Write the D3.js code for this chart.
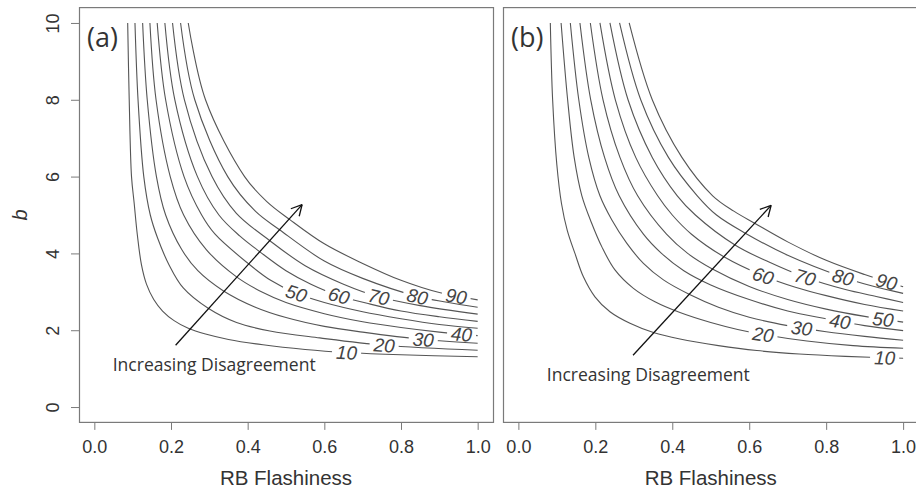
<!doctype html>
<html>
<head>
<meta charset="utf-8">
<title>RB Flashiness contours</title>
<script src="https://d3js.org/d3.v7.min.js"></script>
<style>
  body { margin: 0; background: #fff; }
  svg { display: block; }
</style>
</head>
<body>
<script>
// ---- data ----
var xTicks = [0, 0.2, 0.4, 0.6, 0.8, 1.0];
var yTicks = [0, 2, 4, 6, 8, 10];
var levels = [10, 20, 30, 40, 50, 60, 70, 80, 90];

// contour lines of panel (a), one list of [RB flashiness, b] per level
var curvesA = [
  [[0.087,10],[0.091,8],[0.097,6],[0.104,5.3],[0.112,4.5],[0.123,3.7],[0.136,3.2],[0.155,2.8],[0.178,2.5],[0.208,2.25],[0.245,2.05],[0.29,1.9],[0.35,1.76],[0.44,1.62],[0.55,1.5],[0.66,1.42],[0.8,1.36],[1.0,1.31]],
  [[0.106,10],[0.114,8],[0.129,6],[0.146,5],[0.165,4.4],[0.195,3.7],[0.232,3.1],[0.297,2.57],[0.371,2.2],[0.458,1.98],[0.588,1.8],[0.757,1.61],[1.0,1.48]],
  [[0.126,10],[0.138,8],[0.162,6],[0.186,5],[0.228,4.1],[0.27,3.55],[0.336,3.03],[0.42,2.6],[0.5,2.33],[0.6,2.1],[0.7,1.95],[0.858,1.76],[1.0,1.66]],
  [[0.145,10],[0.161,8],[0.198,6],[0.233,5],[0.292,4.1],[0.371,3.39],[0.44,2.98],[0.5,2.72],[0.6,2.43],[0.7,2.22],[0.8,2.07],[0.9,1.95],[1.0,1.86]],
  [[0.164,10],[0.186,8],[0.234,6],[0.28,5],[0.315,4.5],[0.401,3.74],[0.46,3.3],[0.527,2.96],[0.6,2.72],[0.7,2.48],[0.8,2.3],[0.9,2.15],[1.0,2.05]],
  [[0.184,10],[0.21,8],[0.269,6],[0.325,5],[0.38,4.45],[0.432,4.04],[0.5,3.55],[0.565,3.2],[0.638,2.9],[0.72,2.68],[0.8,2.5],[0.9,2.35],[1.0,2.23]],
  [[0.204,10],[0.235,8],[0.307,6],[0.37,5.05],[0.458,4.33],[0.55,3.68],[0.65,3.2],[0.742,2.87],[0.85,2.64],[1.0,2.42]],
  [[0.225,10],[0.262,8],[0.348,6],[0.42,5.1],[0.484,4.61],[0.6,3.8],[0.7,3.35],[0.843,2.88],[0.92,2.73],[1.0,2.6]],
  [[0.245,10],[0.29,8],[0.392,6],[0.45,5.35],[0.51,4.88],[0.6,4.25],[0.7,3.74],[0.8,3.3],[0.9,2.98],[1.0,2.79]]
];

// contour lines of panel (b)
var curvesB = [
  [[0.083,10],[0.089,8],[0.100,6.3],[0.112,5.3],[0.127,4.6],[0.147,4.0],[0.169,3.39],[0.199,2.87],[0.238,2.48],[0.29,2.18],[0.351,1.94],[0.42,1.77],[0.52,1.6],[0.62,1.47],[0.73,1.38],[0.85,1.32],[1.0,1.27]],
  [[0.111,10],[0.128,8],[0.145,6.5],[0.165,5.5],[0.19,4.8],[0.217,4.17],[0.251,3.57],[0.299,3.09],[0.355,2.74],[0.42,2.46],[0.5,2.2],[0.57,2.02],[0.636,1.89],[0.75,1.72],[0.87,1.6],[1.0,1.53]],
  [[0.135,10],[0.157,8],[0.183,6.5],[0.212,5.5],[0.243,4.87],[0.282,4.26],[0.325,3.74],[0.377,3.31],[0.445,2.93],[0.52,2.6],[0.6,2.34],[0.7,2.12],[0.8,1.96],[0.9,1.84],[1.0,1.74]],
  [[0.160,10],[0.188,8],[0.224,6.5],[0.262,5.5],[0.325,4.5],[0.372,4.0],[0.43,3.55],[0.5,3.18],[0.6,2.8],[0.7,2.5],[0.8,2.3],[0.9,2.12],[1.0,1.99]],
  [[0.187,10],[0.22,8],[0.264,6.5],[0.31,5.5],[0.385,4.5],[0.44,4.0],[0.503,3.6],[0.6,3.14],[0.7,2.8],[0.8,2.55],[0.9,2.36],[1.0,2.21]],
  [[0.212,10],[0.252,8],[0.305,6.5],[0.362,5.5],[0.4,5.0],[0.45,4.5],[0.533,3.92],[0.636,3.42],[0.72,3.12],[0.8,2.9],[0.9,2.67],[1.0,2.5]],
  [[0.238,10],[0.285,8],[0.348,6.5],[0.413,5.5],[0.46,5.0],[0.563,4.22],[0.65,3.78],[0.745,3.38],[0.85,3.06],[0.93,2.88],[1.0,2.72]],
  [[0.263,10],[0.318,8],[0.39,6.5],[0.465,5.5],[0.515,5.0],[0.591,4.52],[0.7,3.95],[0.844,3.38],[0.92,3.15],[1.0,2.96]],
  [[0.288,10],[0.348,8],[0.425,6.5],[0.505,5.5],[0.56,5.1],[0.615,4.78],[0.7,4.3],[0.8,3.82],[0.9,3.45],[1.0,3.13]]
];

// x position of each contour label (same order as levels)
var labelXA = [0.658, 0.756, 0.858, 0.958, 0.527, 0.638, 0.742, 0.843, 0.944];
var labelXB = [0.952, 0.636, 0.736, 0.836, 0.948, 0.636, 0.745, 0.844, 0.957];

// arrow start / end and the note under it
var arrowA = [[0.212, 1.61], [0.542, 5.27]];
var arrowB = [[0.298, 1.35], [0.657, 5.25]];
var noteA = [0.048, 0.94];
var noteB = [0.074, 0.685];
var noteText = "Increasing Disagreement";

// ---- drawing ----
var W = 916, H = 492;
var svg = d3.select("body").append("svg")
    .attr("width", W)
    .attr("height", H);
var defs = svg.append("defs");

var panels = [
  {tag: "(a)", curves: curvesA, labelX: labelXA, arrow: arrowA, note: noteA, left: 79, right: 493, yAxis: true},
  {tag: "(b)", curves: curvesB, labelX: labelXB, arrow: arrowB, note: noteB, left: 503, right: 918.5, yAxis: false}
];

var plotTop = 7.6, plotBottom = 422.4;
var axisFont = "'Liberation Sans', Arial, Helvetica, sans-serif";

panels.forEach(function(p, pi) {
    var x = d3.scaleLinear().domain([-0.04, 1.04]).range([p.left, p.right]);
    var y = d3.scaleLinear().domain([-0.4, 10.4]).range([plotBottom, plotTop]);
    var g = svg.append("g");

    // box
    g.append("rect")
        .attr("x", p.left + 0.5)
        .attr("y", plotTop)
        .attr("width", p.right - p.left)
        .attr("height", plotBottom - plotTop)
        .style("fill", "none")
        .style("stroke", "#7a7a7a")
        .style("stroke-width", 1.2);

    // x axis
    var xa = g.append("g")
        .attr("transform", "translate(0," + plotBottom + ")")
        .call(d3.axisBottom(x).tickValues(xTicks).tickFormat(d3.format(".1f")).tickSize(7.5).tickPadding(10));
    xa.select(".domain").remove();
    xa.selectAll("line").style("stroke", "#7a7a7a");
    xa.selectAll("text").style("font-family", axisFont).style("font-size", "18px").style("fill", "#333");

    g.append("text")
        .attr("x", (x(0) + x(1)) / 2)
        .attr("y", 485)
        .attr("text-anchor", "middle")
        .style("font-family", axisFont)
        .style("font-size", "20.5px")
        .style("fill", "#333")
        .text("RB Flashiness");

    if (p.yAxis) {
        var ya = g.append("g")
            .attr("transform", "translate(" + p.left + ",0)")
            .call(d3.axisLeft(y).tickValues(yTicks).tickSize(8).tickPadding(10));
        ya.select(".domain").remove();
        ya.selectAll("line").style("stroke", "#7a7a7a");
        ya.selectAll("text")
            .attr("transform", "rotate(-90)")
            .attr("x", 0)
            .attr("y", -20.5)
            .attr("dy", 0)
            .attr("text-anchor", "middle")
            .style("font-family", axisFont).style("font-size", "18px").style("fill", "#333");
        g.append("text")
            .attr("transform", "translate(27," + y(5) + ") rotate(-90)")
            .attr("text-anchor", "middle")
            .style("font-family", axisFont)
            .style("font-size", "20px")
            .style("font-style", "italic")
            .style("fill", "#333")
            .text("b");
    }

    // contour lines
    var line = d3.line()
        .x(function(d) { return x(d[0]); })
        .y(function(d) { return y(d[1]); })
        .curve(d3.curveCatmullRom.alpha(0.5));

    p.curves.forEach(function(c, i) {
        var maskId = "m" + pi + "_" + i;
        var mask = defs.append("mask")
            .attr("id", maskId)
            .attr("maskUnits", "userSpaceOnUse")
            .attr("x", 0).attr("y", 0).attr("width", W).attr("height", H);
        mask.append("rect").attr("width", W).attr("height", H).style("fill", "#fff");

        var path = g.append("path")
            .datum(c)
            .attr("d", line)
            .attr("mask", "url(#" + maskId + ")")
            .style("fill", "none")
            .style("stroke", "#555")
            .style("stroke-width", 1.1);

        // find the label spot on the drawn path
        var node = path.node();
        var L = node.getTotalLength();
        var tx = x(p.labelX[i]);
        var lo = 0, hi = L;
        for (var k = 0; k < 40; k++) {
            var mid = (lo + hi) / 2;
            if (node.getPointAtLength(mid).x < tx) lo = mid; else hi = mid;
        }
        var pt = node.getPointAtLength(lo);
        var p1 = node.getPointAtLength(Math.max(0, lo - 5));
        var p2 = node.getPointAtLength(Math.min(L, lo + 5));
        var ang = 0.8 * Math.atan2(p2.y - p1.y, p2.x - p1.x) * 180 / Math.PI;

        var lab = g.append("text")
            .attr("transform", "translate(" + pt.x + "," + pt.y + ") rotate(" + ang + ")")
            .attr("text-anchor", "middle")
            .attr("dy", "0.36em")
            .style("font-family", axisFont)
            .style("font-size", "19px")
            .style("font-style", "italic")
            .style("fill", "#444")
            .text(levels[i]);
        var tw = lab.node().getComputedTextLength();

        mask.append("rect")
            .attr("x", -tw / 2 - 4)
            .attr("y", -8)
            .attr("width", tw + 8)
            .attr("height", 16)
            .attr("transform", "translate(" + pt.x + "," + pt.y + ") rotate(" + ang + ")")
            .style("fill", "#000");
    });

    // arrow
    var ax1 = x(p.arrow[0][0]), ay1 = y(p.arrow[0][1]);
    var ax2 = x(p.arrow[1][0]), ay2 = y(p.arrow[1][1]);
    var dir = Math.atan2(ay2 - ay1, ax2 - ax1);
    var head = 12, spread = 28 * Math.PI / 180;
    g.append("line")
        .attr("x1", ax1).attr("y1", ay1).attr("x2", ax2).attr("y2", ay2)
        .style("stroke", "#111").style("stroke-width", 1.3);
    [dir + Math.PI - spread, dir + Math.PI + spread].forEach(function(a) {
        g.append("line")
            .attr("x1", ax2).attr("y1", ay2)
            .attr("x2", ax2 + head * Math.cos(a)).attr("y2", ay2 + head * Math.sin(a))
            .style("stroke", "#111").style("stroke-width", 1.3);
    });

    // note under the arrow, fitted to its width in the picture
    var note = g.append("text")
        .attr("x", x(p.note[0]))
        .attr("y", y(p.note[1]))
        .style("font-family", "'Open Sans', sans-serif")
        .style("font-size", "17px")
        .style("fill", "#333")
        .text(noteText);
    var nw = note.node().getComputedTextLength();
    note.style("font-size", (17 * 203 / nw) + "px");

    // panel tag
    g.append("text")
        .attr("x", p.left + 8)
        .attr("y", 47)
        .style("font-family", "'Open Sans', sans-serif")
        .style("font-size", "27px")
        .style("fill", "#333")
        .text(p.tag);
});
</script>
</body>
</html>
